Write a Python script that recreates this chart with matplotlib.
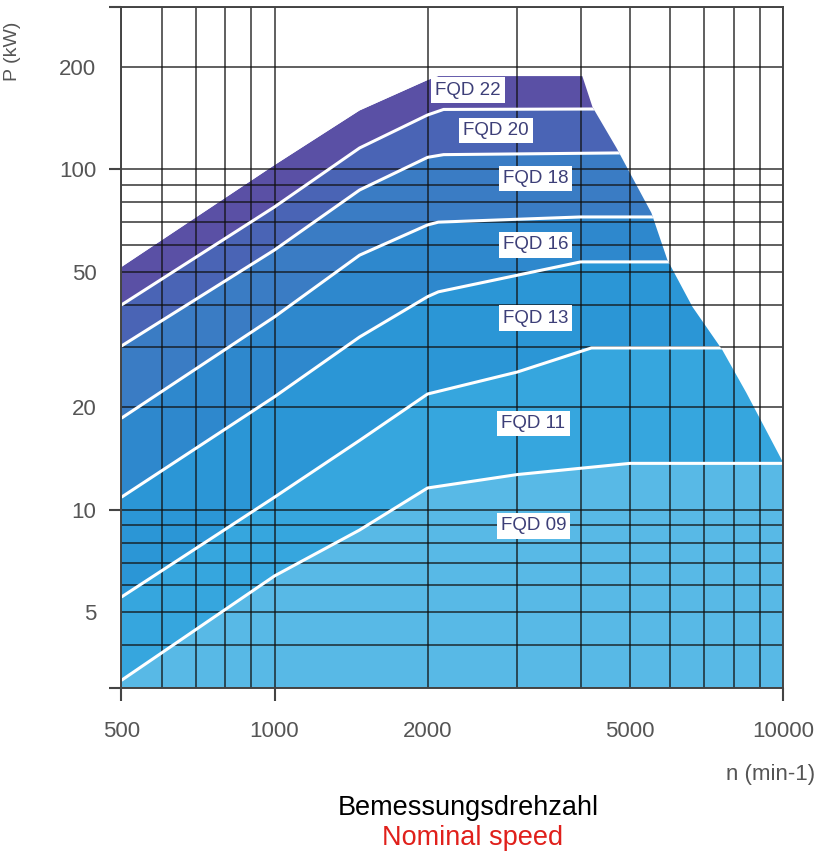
import matplotlib
matplotlib.use("Agg")
import matplotlib.pyplot as plt
from matplotlib.patches import Polygon
from matplotlib.ticker import FixedLocator, NullFormatter

plt.rcParams['font.family'] = ['Liberation Sans', 'DejaVu Sans']

# --- data (n in min-1, P in kW) ---
top_n = [500, 1000, 1470, 2000, 2100, 4030]
top_p = [51.7, 103, 149, 183, 188, 188]

# right-hand limit of the whole field
edge_n = [4030, 4220, 4705, 5511, 5925, 6635, 7597, 8468, 10000]
edge_p = [188, 152.5, 115.6, 74.5, 54.2, 39.5, 29.5, 22.1, 13.8]

l20_n = [500, 1000, 1470, 2000, 2150, 10000]
l20_p = [40, 77.6, 115.6, 144.5, 150, 151]
l18_n = [500, 1000, 1470, 2000, 2150, 10000]
l18_p = [30.3, 58, 87, 108.5, 110.5, 113]
l16_n = [500, 1000, 1470, 2000, 2100, 4000, 10000]
l16_p = [18.6, 36.9, 56, 68.7, 70, 72.5, 72.5]
l13_n = [500, 1000, 1470, 2000, 2100, 4000, 10000]
l13_p = [10.9, 21.5, 32.2, 42.3, 43.7, 53.5, 53.5]
l11_n = [500, 1000, 1470, 2000, 3000, 4200, 10000]
l11_p = [5.55, 10.9, 16, 21.9, 25.4, 29.9, 29.9]
l09_n = [500, 1000, 1470, 2000, 3000, 5000, 10000]
l09_p = [3.16, 6.4, 8.73, 11.6, 12.7, 13.7, 13.7]
bottom_n = [500, 10000]
bottom_p = [3, 3]

sizes = ['FQD 22', 'FQD 20', 'FQD 18', 'FQD 16', 'FQD 13', 'FQD 11', 'FQD 09']
colors = ['#5a50a5', '#4a64b5', '#3a7cc4', '#2e88cd', '#2b96d6', '#36a6de', '#58b9e6']
label_n = [2400, 2730, 3260, 3260, 3260, 3230, 3230]
label_p = [171, 130, 94, 60, 36.6, 17.9, 8.97]

x_ticks = [500, 1000, 2000, 5000, 10000]
y_ticks = [5, 10, 20, 50, 100, 200]
x_grid = [500, 600, 700, 800, 900, 1000, 2000, 3000, 4000, 5000,
          6000, 7000, 8000, 9000, 10000]
y_grid = [3, 4, 5, 6, 7, 8, 9, 10, 20, 30, 40, 50, 60, 70, 80, 90,
          100, 200, 300]

fig = plt.figure(figsize=(8.18, 8.56), dpi=100)
ax = fig.add_axes([0.1485, 0.1963, 0.8087, 0.7956])
ax.set_xscale('log')
ax.set_yscale('log')
ax.set_xlim(500, 10000)
ax.set_ylim(3, 300)

# outline of the whole field, used to clip every band
env = list(zip(top_n, top_p)) + list(zip(edge_n[1:], edge_p[1:])) + [(10000, 3), (500, 3)]
env_patch = Polygon(env, closed=True, transform=ax.transData,
                    facecolor='none', edgecolor='none')
ax.add_patch(env_patch)

bounds = [(top_n + [10000], top_p + [188]), (l20_n, l20_p), (l18_n, l18_p),
          (l16_n, l16_p), (l13_n, l13_p), (l11_n, l11_p), (l09_n, l09_p),
          (bottom_n, bottom_p)]

for i in range(len(sizes)):
    un, up = bounds[i]
    ln, lp = bounds[i + 1]
    pts = list(zip(un, up)) + list(zip(ln[::-1], lp[::-1]))
    band = Polygon(pts, closed=True, facecolor=colors[i], edgecolor='none', zorder=1)
    ax.add_patch(band)
    band.set_clip_path(env_patch)

# grid
for v in x_grid:
    ax.axvline(v, color='#111111', alpha=0.72, lw=1.3, zorder=2)
for v in y_grid:
    ax.axhline(v, color='#111111', alpha=0.72, lw=1.3, zorder=2)

# white separating lines
for n, p in bounds[1:-1]:
    ln, = ax.plot(n, p, color='white', lw=2.2, zorder=3, solid_capstyle='butt')
    ln.set_clip_path(env_patch)

for s, xn, yp in zip(sizes, label_n, label_p):
    ax.text(xn, yp, s, ha='center', va='center', fontsize=13.5, color='#3d3f78', zorder=4,
            bbox=dict(boxstyle='square,pad=0.22', facecolor='white', edgecolor='none'))

# ticks and labels
ax.set_xticks(x_ticks)
ax.set_xticklabels([str(t) for t in x_ticks])
ax.set_yticks(y_ticks)
ax.set_yticklabels([str(t) for t in y_ticks])
ax.xaxis.remove_overlapping_locs = False
ax.yaxis.remove_overlapping_locs = False
ax.xaxis.set_minor_locator(FixedLocator([500, 1000, 10000]))
ax.yaxis.set_minor_locator(FixedLocator([3, 10, 100, 300]))
ax.xaxis.set_minor_formatter(NullFormatter())
ax.yaxis.set_minor_formatter(NullFormatter())
ax.tick_params(which='major', length=0, labelsize=16, labelcolor='#555555')
ax.tick_params(axis='x', which='major', pad=24)
ax.tick_params(axis='y', which='major', pad=18)
ax.tick_params(which='minor', length=9, width=1.5, color='#444444')

for sp in ax.spines.values():
    sp.set_color('#444444')
    sp.set_linewidth(1.4)
    sp.set_zorder(5)

fig.text(0.015, 0.94, 'P (kW)', rotation=90, ha='center', va='center',
         fontsize=14, color='#555555')
fig.text(0.997, 0.095, 'n (min-1)', ha='right', va='center', fontsize=16, color='#555555')
fig.text(0.572, 0.056, 'Bemessungsdrehzahl', ha='center', va='center',
         fontsize=19.5, color='black')
fig.text(0.578, 0.021, 'Nominal speed', ha='center', va='center',
         fontsize=19.5, color='#e0201b')

fig.savefig('out.png', dpi=100)
